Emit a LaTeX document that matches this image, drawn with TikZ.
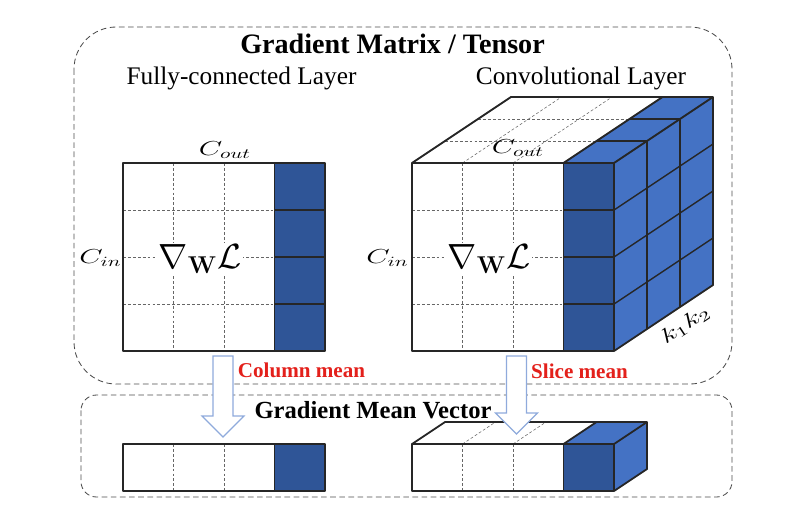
\documentclass[tikz,border=0pt]{standalone}
\usepackage[no-math]{fontspec}
\usepackage{graphicx}
\setmainfont{Liberation Serif}
\definecolor{frontblue}{HTML}{2F5597}
\definecolor{sideblue}{HTML}{4472C4}
\definecolor{arrowblue}{HTML}{8FAADC}
\definecolor{meanred}{HTML}{E3201B}
\newcommand{\wide}[1]{\scalebox{1.5}[1]{#1}}

\begin{document}
\begin{tikzpicture}[x=0.025cm,y=-0.025cm,
    edge/.style={line width=1.3pt, draw=black!85, line join=round},
    cell/.style={line width=1pt, draw=black!85},
    grid/.style={dash pattern=on 2pt off 1.5pt, line width=0.4pt, draw=black!60},
    frame/.style={dash pattern=on 4pt off 2.5pt, line width=0.6pt, draw=black!70},
    hollow/.style={draw=arrowblue, fill=white, line width=0.8pt},
    mean/.style={font=\bfseries\fontsize{15}{18}\selectfont, text=meanred, anchor=base},
    lbl/.style={font=\fontsize{14}{16}\selectfont}]
    \useasboundingbox (0,0) rectangle (800,508);

    % dashed frames
    \draw[frame, rounded corners=30pt] (74,27) rectangle (732,384);
    \draw[frame, rounded corners=11pt] (81,395) rectangle (732,497);

    \node[anchor=base, font=\bfseries\fontsize{20}{24}\selectfont] (title) at (392.5,53) {Gradient Matrix / Tensor};
    \node[anchor=base, font=\fontsize{18}{21}\selectfont] (fclayer) at (241.5,84) {Fully-connected Layer};
    \node[anchor=base, font=\fontsize{18}{21}\selectfont] (convlayer) at (581,84) {Convolutional Layer};

    % fully-connected matrix
    \fill[frontblue] (274.5,163) rectangle (325,351);
    \foreach \x in {173.5,224} \draw[grid] (\x,163) -- (\x,351);
    \foreach \y in {210,257,304} {
        \draw[grid] (123,\y) -- (274.5,\y);
        \draw[cell] (274.5,\y) -- (325,\y);
    }
    \draw[edge] (123,163) rectangle (325,351);
    \draw[edge] (274.5,163) -- (274.5,351);
    \node[lbl] (fccout) at (225,150) {\wide{$C_{out}$}};
    \node[lbl, anchor=east, inner sep=0pt] (fccin) at (122,258) {\wide{$C_{in}$}};
    \node[fill=white, inner sep=1pt, font=\fontsize{27}{30}\selectfont] (fcgrad) at (200,259) {$\nabla_{\mathbf{W}}\mathcal{L}$};

    % convolutional tensor: top face
    \foreach \k in {1,2} \draw[grid] (412+33*\k,163-22*\k) -- (563.5+33*\k,163-22*\k);
    \foreach \x in {462.5,513} \draw[grid] (\x,163) -- (\x+99,97);
    \fill[sideblue] (563.5,163) -- (614,163) -- (713,97) -- (662.5,97) -- cycle;
    \foreach \k in {1,2} \draw[cell] (563.5+33*\k,163-22*\k) -- (614+33*\k,163-22*\k);
    % side face
    \fill[sideblue] (614,163) -- (713,97) -- (713,285) -- (614,351) -- cycle;
    \foreach \y in {210,257,304} \draw[cell] (614,\y) -- (713,\y-66);
    \foreach \k in {1,2} \draw[cell] (614+33*\k,163-22*\k) -- (614+33*\k,351-22*\k);
    % front face
    \fill[frontblue] (563.5,163) rectangle (614,351);
    \foreach \x in {462.5,513} \draw[grid] (\x,163) -- (\x,351);
    \foreach \y in {210,257,304} {
        \draw[grid] (412,\y) -- (563.5,\y);
        \draw[cell] (563.5,\y) -- (614,\y);
    }
    \draw[edge] (412,163) rectangle (614,351);
    \draw[edge] (563.5,163) -- (563.5,351);
    \draw[edge] (412,163) -- (511,97) -- (713,97) -- (713,285) -- (614,351);
    \draw[edge] (614,163) -- (713,97);
    \draw[edge] (563.5,163) -- (662.5,97);
    \node[lbl] (convcout) at (518,148) {\wide{$C_{out}$}};
    \node[lbl, anchor=east, inner sep=0pt] (convcin) at (409,258) {\wide{$C_{in}$}};
    \node[fill=white, inner sep=1pt, font=\fontsize{27}{30}\selectfont] (convgrad) at (489,259) {$\nabla_{\mathbf{W}}\mathcal{L}$};
    \path (614,351) -- (713,285) node[lbl, pos=0.62, below=3pt, sloped] (kk) {\wide{$k_1k_2$}};

    \node[mean] (colmean) at (301.5,377) {Column mean};
    \node[mean] (slicemean) at (579.5,378) {Slice mean};
    \node[anchor=base, font=\bfseries\fontsize{17.5}{21}\selectfont] (meantitle) at (373,418) {Gradient Mean Vector};

    % mean vectors
    \fill[frontblue] (274.5,444) rectangle (325,491);
    \foreach \x in {173.5,224} \draw[grid] (\x,444) -- (\x,491);
    \draw[edge] (123,444) rectangle (325,491);
    \draw[edge] (274.5,444) -- (274.5,491);

    \foreach \x in {462.5,513} \draw[grid] (\x,444) -- (\x+33,422);
    \fill[sideblue] (563.5,444) -- (614,444) -- (647,422) -- (596.5,422) -- cycle;
    \fill[sideblue] (614,444) -- (647,422) -- (647,469) -- (614,491) -- cycle;
    \fill[frontblue] (563.5,444) rectangle (614,491);
    \foreach \x in {462.5,513} \draw[grid] (\x,444) -- (\x,491);
    \draw[edge] (412,444) rectangle (614,491);
    \draw[edge] (563.5,444) -- (563.5,491);
    \draw[edge] (412,444) -- (445,422) -- (647,422) -- (647,469) -- (614,491);
    \draw[edge] (614,444) -- (647,422);
    \draw[edge] (563.5,444) -- (596.5,422);

    % hollow arrows
    \foreach \ax/\hy in {223/416, 516.5/413}
        \draw[hollow] (\ax-10,356) -- (\ax+10,356) -- (\ax+10,\hy) -- (\ax+21,\hy) -- (\ax,\hy+21) -- (\ax-21,\hy) -- (\ax-10,\hy) -- cycle;
\end{tikzpicture}
\end{document}
